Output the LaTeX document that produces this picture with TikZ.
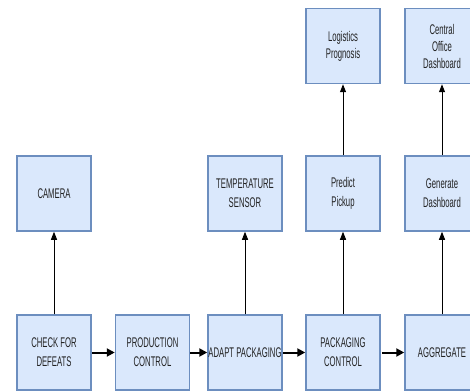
\documentclass[tikz,border=0pt]{standalone}
\usepackage{fontspec}
\setmainfont{Liberation Sans}[FakeStretch=0.55]
\usetikzlibrary{arrows.meta}
\definecolor{boxfill}{HTML}{DAE8FC}
\definecolor{boxdraw}{HTML}{6C8EBF}
\definecolor{txt}{HTML}{222222}
\begin{document}
\begin{tikzpicture}[x=1pt,y=1pt,
  blk/.style={draw=boxdraw,fill=boxfill,line width=1.5pt,minimum width=74pt,minimum height=75pt,
    align=center,inner sep=0pt,text=txt,font=\fontsize{14}{19}\selectfont},
  thick arrow/.style={line width=2pt,-{Triangle[length=8pt,width=8pt]}},
  thin arrow/.style={line width=1pt,-{Triangle[length=8pt,width=6pt]}}]
\useasboundingbox (0,0) rectangle (470,391);
\node[blk] (check) at (54,38.5) {CHECK FOR\\DEFEATS};
\node[blk] (prod) at (152.5,38.5) {PRODUCTION\\CONTROL};
\node[blk] (adapt) at (245,38.5) {ADAPT PACKAGING};
\node[blk] (pack) at (343,38.5) {PACKAGING\\CONTROL};
\node[blk] (agg) at (442,38.5) {AGGREGATE};
\node[blk] (cam) at (54,197.5) {CAMERA};
\node[blk] (temp) at (245,197.5) {TEMPERATURE\\SENSOR};
\node[blk] (pred) at (343,197.5) {Predict\\Pickup};
\node[blk] (gen) at (442,197.5) {Generate\\Dashboard};
\node[blk,font=\fontsize{14}{17}\selectfont] (log) at (343,345) {Logistics\\Prognosis};
\node[blk,font=\fontsize{14}{17}\selectfont] (cen) at (442,345) {Central\\Office\\Dashboard};
\draw[thick arrow] (check) -- (prod);
\draw[thick arrow] (prod) -- (adapt);
\draw[thick arrow] (adapt) -- (pack);
\draw[thick arrow] ([xshift=1pt]pack.east) -- (agg);
\draw[thin arrow] (check) -- (cam);
\draw[thin arrow] (adapt) -- (temp);
\draw[thin arrow] (pack) -- (pred);
\draw[thin arrow] (agg) -- (gen);
\draw[thin arrow] (pred) -- (log);
\draw[thin arrow] (gen) -- (cen);
\end{tikzpicture}
\end{document}
